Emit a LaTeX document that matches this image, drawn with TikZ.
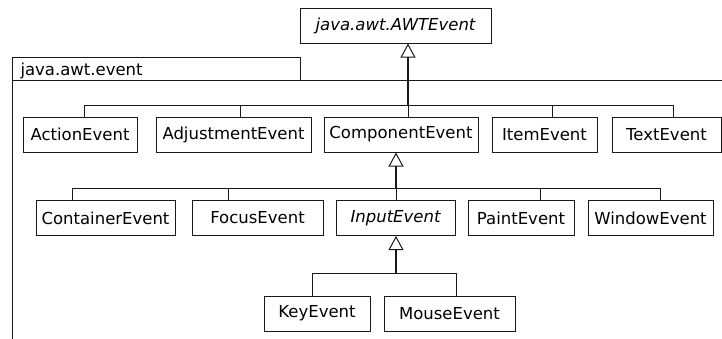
\documentclass[tikz,border=0pt]{standalone}
\usepackage{fontspec}
\setmainfont{DejaVu Sans}
\usepackage{tikz}
\usetikzlibrary{
  arrows.meta,
  calc,
  positioning
}
\definecolor{ink}{HTML}{1A1A1A}
\tikzset{
  klass/.style={
    draw=ink,
    line width=1pt,
    minimum width=#1,
    minimum height=35pt,
    inner sep=2pt,
    font=\fontsize{16.5}{20}\selectfont
  },
  abstractklass/.style={
    klass=#1,
    font=\fontsize{16.5}{20}\selectfont\itshape
  },
  pkgtab/.style={
    draw=ink,
    line width=1pt,
    minimum height=23pt,
    inner xsep=8pt,
    inner ysep=0pt,
    text width=272pt,
    text depth=0pt,
    align=left,
    font=\fontsize{16.5}{20}\selectfont
  },
  pkgline/.style={
    draw=ink,
    line width=1pt
  },
  stub/.style={
    draw=ink,
    line width=1pt
  },
  inherit/.style={
    -{Triangle[open, length=14pt, width=15pt, line width=1pt]},
    draw=ink,
    line width=2pt
  }
}

\begin{document}
\begin{tikzpicture}[x=1pt, y=-1pt]
  \useasboundingbox (0,0) rectangle (722,338);

  % package frame with its tab
  \node[pkgtab, anchor=north west] (pkg) at (12,57) {java.awt.event};
  \coordinate (frameTR) at (724,80);
  \coordinate (frameBL) at (12,340);
  \draw[pkgline] (frameTR) -| (frameBL);

  % root class
  \node[abstractklass=191pt] (awtev) at (395.5,25.5) {java.awt.AWTEvent};

  % direct subclasses
  \node[klass=114pt] (actionev) at (80,134.5) {ActionEvent};
  \node[klass=155pt] (adjustev) at (233.5,134.5) {AdjustmentEvent};
  \node[klass=154pt] (componentev) at (401,134.5) {ComponentEvent};
  \node[klass=105pt] (itemev) at (544.5,134.5) {ItemEvent};
  \node[klass=109pt] (textev) at (666.5,134.5) {TextEvent};

  % component events
  \node[klass=139pt] (containerev) at (105.5,218) {ContainerEvent};
  \node[klass=131pt] (focusev) at (257.5,218) {FocusEvent};
  \node[abstractklass=119pt] (inputev) at (395.5,218) {InputEvent};
  \node[klass=106pt] (paintev) at (521,218) {PaintEvent};
  \node[klass=125pt] (windowev) at (650.5,218) {WindowEvent};

  % input events
  \node[klass=106pt] (keyev) at (317,313.5) {KeyEvent};
  \node[klass=131pt] (mouseev) at (449.5,313.5) {MouseEvent};

  % generalization trees
  \coordinate (busA) at (408,105);
  \draw[inherit] (busA) -- (busA |- awtev.south);
  \draw[stub] ([xshift=4pt]actionev.north) |- (busA);
  \draw[stub] ([xshift=6.5pt]adjustev.north) |- (busA);
  \draw[stub] ([xshift=7pt]componentev.north) |- (busA);
  \draw[stub] ([xshift=7.5pt]itemev.north) |- (busA);
  \draw[stub] ([xshift=6.5pt]textev.north) |- (busA);

  \coordinate (busB) at (396,188);
  \draw[inherit] (busB) -- (busB |- componentev.south);
  \draw[stub] ([xshift=-33.5pt]containerev.north) |- (busB);
  \draw[stub] ([xshift=-29.5pt]focusev.north) |- (busB);
  \draw[stub] ([xshift=0.5pt]inputev.north) |- (busB);
  \draw[stub] ([xshift=19pt]paintev.north) |- (busB);
  \draw[stub] ([xshift=9.5pt]windowev.north) |- (busB);

  \coordinate (busC) at (396,273);
  \draw[inherit] (busC) -- (busC |- inputev.south);
  \draw[stub] ([xshift=-5pt]keyev.north) |- (busC);
  \draw[stub] ([xshift=6.5pt]mouseev.north) |- (busC);
\end{tikzpicture}
\end{document}
